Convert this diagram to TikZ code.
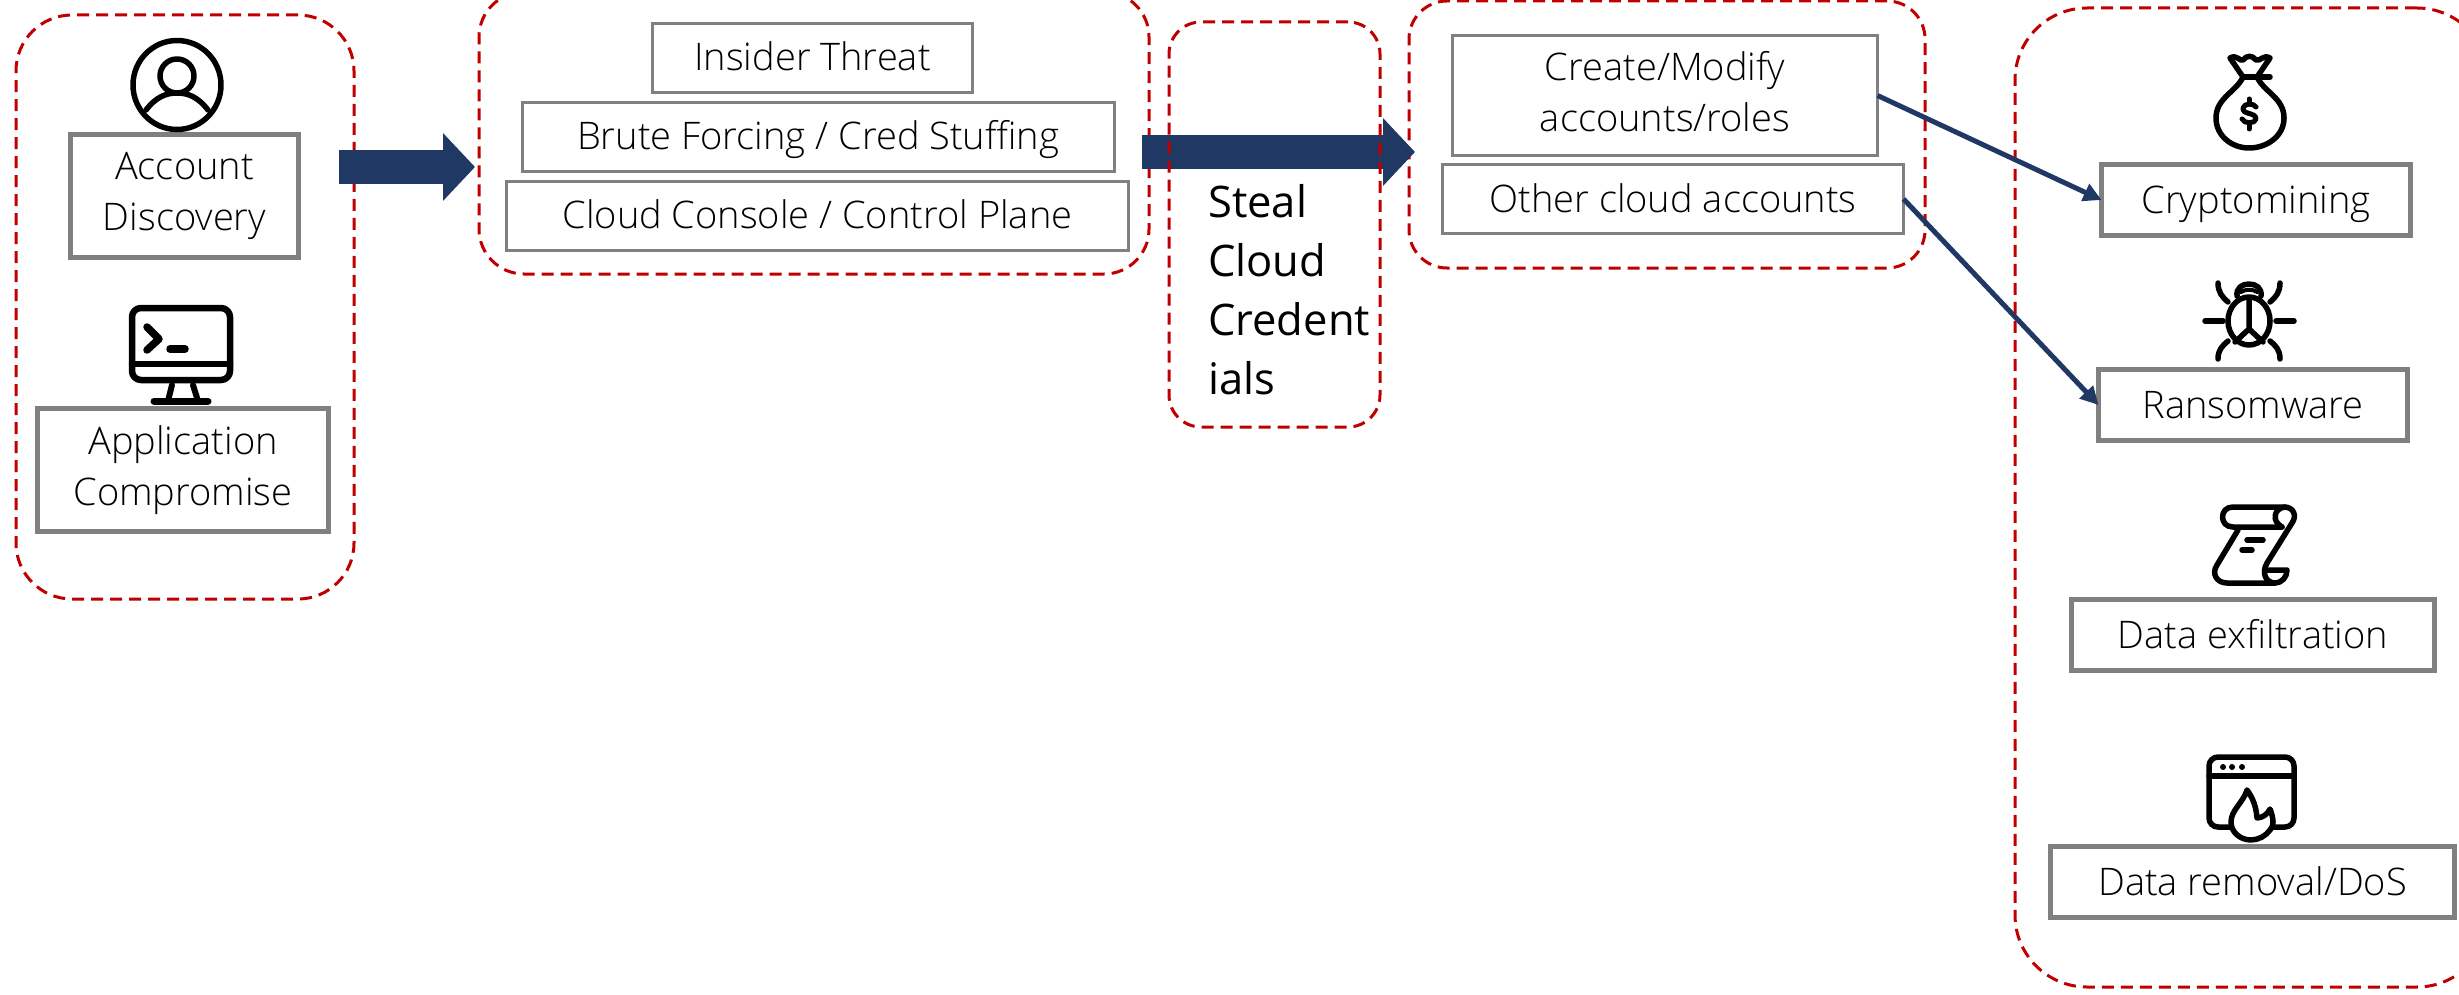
\documentclass[tikz,border=0pt]{standalone}
\usepackage{fontspec}
\setmainfont{Open Sans}
\newfontfamily\lightfont{Open Sans Light}
\usetikzlibrary{arrows.meta}
\definecolor{navy}{HTML}{203864}
\definecolor{dashred}{HTML}{C00000}
\definecolor{boxgray}{HTML}{808080}
\newcommand{\twostrut}{\rule[-9pt]{0pt}{36pt}}
\tikzset{
  groupbox/.style={draw=dashred,line width=3,dash pattern=on 12pt off 7pt,inner sep=0,outer sep=0},
  labelfont/.style={font=\lightfont\fontsize{38}{51}\selectfont},
  heavybox/.style={draw=boxgray,line width=5,fill=white,inner sep=0,outer sep=0,align=center,labelfont},
  lightbox/.style={draw=boxgray,line width=3,fill=white,inner sep=0,outer sep=0,align=center,labelfont},
  oneline/.style={text height=32pt,text depth=6pt},
  block/.style={draw=navy,line width=34,-{Triangle[length=32pt,width=66pt]}},
  link/.style={draw=navy,line width=5,-{Triangle[length=18pt,width=18pt]}},
  icon/.style={draw=black,line width=5.5,line cap=round,line join=round},
}
\begin{document}
\begin{tikzpicture}[x=1pt,y=-1pt]
\useasboundingbox (0,0) rectangle (2459,995);
\clip (0,0) rectangle (2459,995);
% group frames
\node[groupbox,rounded corners=56,minimum width=338,minimum height=584] (g1) at (185,307) {};
\node[groupbox,rounded corners=45,minimum width=670,minimum height=282] (g2) at (814,133) {};
\node[groupbox,rounded corners=38,minimum width=516,minimum height=267] (g4) at (1667,134.5) {};
\node[groupbox,rounded corners=72,minimum width=474,minimum height=979] (g5) at (2252,497.5) {};
% block arrows
\coordinate (a1s) at (339,167);
\coordinate (a1e) at (475,167);
\coordinate (a2s) at (1142,152);
\coordinate (a2e) at (1415,152);
\draw[block] (a1s) -- (a1e);
\draw[block] (a2s) -- (a2e);
\node[groupbox,rounded corners=32,minimum width=211,minimum height=405] (g3) at (1274.5,224.5) {};
\node[anchor=west,align=left,inner sep=0,font=\fontsize{43.5}{59}\selectfont] (steal) at (1208,290) {Steal\\Cloud\\Credent\\ials};
% boxes
\node[heavybox,minimum width=228,minimum height=123] (acc) at (184.5,196) {\twostrut Account\\\twostrut Discovery};
\node[heavybox,minimum width=291,minimum height=123] (app) at (183,470) {\twostrut Application\\\twostrut Compromise};
\node[lightbox,oneline,minimum width=320,minimum height=69] (ins) at (812.5,58) {Insider Threat};
\node[lightbox,oneline,minimum width=592,minimum height=69] (bru) at (818,137) {Brute Forcing / Cred Stuffing};
\node[lightbox,oneline,minimum width=622,minimum height=69] (clo) at (817.5,216) {Cloud Console / Control Plane};
\node[lightbox,minimum width=425,minimum height=120] (cre) at (1665,95.5) {\twostrut Create/Modify\\\twostrut accounts/roles};
\node[lightbox,oneline,minimum width=461,minimum height=69] (oth) at (1673,199) {Other cloud accounts};
\node[heavybox,oneline,minimum width=309,minimum height=71] (cry) at (2256,200) {Cryptomining};
\node[heavybox,oneline,minimum width=309,minimum height=71] (ran) at (2253,405) {Ransomware};
\node[heavybox,oneline,minimum width=363,minimum height=71] (exf) at (2253,635) {Data exfiltration};
\node[heavybox,oneline,minimum width=404,minimum height=71] (rem) at (2252.5,882) {Data removal/DoS};
% connectors
\draw[link] (cre.east) -- (cry.west);
\draw[link] (oth.east) -- (ran.west);
% person icon
\draw[icon] (177,85) ellipse [x radius=44,y radius=44.5];
\draw[icon] (177,76) circle (17);
\draw[icon] (146,110) .. controls (156,97) and (166,93) .. (177,93) .. controls (188,93) and (198,97) .. (208,110);
% terminal icon
\draw[icon,line width=6.5,rounded corners=9] (132,308) rectangle (230,380);
\draw[icon,line width=6.5] (132,364) -- (230,364);
\draw[icon,line width=7.5] (147,327) -- (159,339) -- (147,350);
\draw[icon,line width=7.5] (170,349) -- (185,349);
\draw[icon,line width=6] (172,385) -- (168,401) (193,385) -- (198,401);
\draw[icon,line width=7] (154,401) -- (208,401);
% money bag icon
\draw[icon] (2243,77) .. controls (2236,92) and (2216,98) .. (2216,118) .. controls (2216,136) and (2232,148) .. (2249,148) .. controls (2267,148) and (2284,136) .. (2284,118) .. controls (2284,98) and (2264,92) .. (2257,77);
\draw[icon] (2243,77) -- (2270,77);
\draw[icon] (2243,77) -- (2230,58) .. controls (2237,54) and (2240,62) .. (2243,60) .. controls (2247,55) and (2252,55) .. (2256,60) .. controls (2260,62) and (2263,54) .. (2270,58) -- (2257,77);
\draw[icon,line width=5] (2256,107) .. controls (2254,103) and (2244,103) .. (2243,108) .. controls (2242,115) and (2256,112) .. (2256,119) .. controls (2255,124) and (2244,124) .. (2242,119);
\draw[icon,line width=5] (2249,99) -- (2249,103) (2249,124) -- (2249,129);
% bug icon
\draw[icon] (2249,321) ellipse [x radius=21,y radius=24];
\draw[icon] (2237,296) .. controls (2236,288) and (2242,284) .. (2249,284) .. controls (2256,284) and (2262,288) .. (2261,296);
\draw[icon,line width=4] (2241,292) .. controls (2245,289) and (2253,289) .. (2257,292);
\draw[icon] (2249,298) -- (2249,329) (2249,329) -- (2235,342) (2249,329) -- (2263,342);
\draw[icon] (2205,321) -- (2223,321) (2276,321) -- (2294,321);
\draw[icon] (2218,283) .. controls (2218,292) and (2222,297) .. (2228,302);
\draw[icon] (2280,283) .. controls (2280,292) and (2276,297) .. (2270,302);
\draw[icon] (2218,359) .. controls (2218,350) and (2222,346) .. (2228,341);
\draw[icon] (2280,359) .. controls (2280,350) and (2276,346) .. (2270,341);
% scroll icon
\draw[icon] (2282,527) -- (2233,527) .. controls (2219,527) and (2219,507) .. (2233,507) -- (2284,507) .. controls (2294,507) and (2297,516) .. (2292,523) -- (2267,563) .. controls (2261,573) and (2266,583) .. (2275,583) -- (2227,583) .. controls (2217,583) and (2211,574) .. (2217,565) -- (2238,530);
\draw[icon] (2285,507) .. controls (2274,508) and (2271,521) .. (2282,527);
\draw[icon] (2267,570) -- (2287,570) .. controls (2287,577) and (2282,583) .. (2275,583);
\draw[icon] (2247,540) -- (2263,540) (2242,550) -- (2252,550);
% window icon
\draw[icon,rounded corners=9] (2209,757) rectangle (2294,827);
\draw[icon] (2209,776) -- (2294,776);
\fill (2223,767) circle (3) (2232,767) circle (3) (2242,767) circle (3);
\draw[icon,fill=white] (2247,790) .. controls (2252,797) and (2256,805) .. (2257,818) .. controls (2262,818) and (2268,814) .. (2270,809) .. controls (2274,820) and (2274,826) .. (2270,830) .. controls (2266,836) and (2258,840) .. (2251,840) .. controls (2240,840) and (2231,832) .. (2231,822) .. controls (2231,810) and (2243,803) .. (2247,790) -- cycle;
\end{tikzpicture}
\end{document}
